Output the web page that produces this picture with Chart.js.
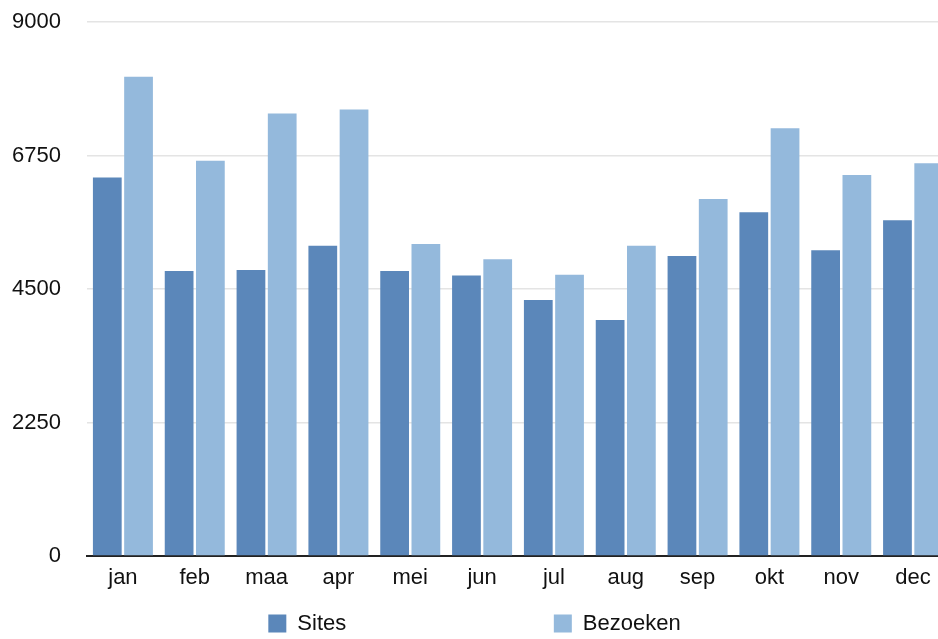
<!DOCTYPE html>
<html>
<head>
<meta charset="utf-8">
<script src="https://cdn.jsdelivr.net/npm/chart.js@4.4.1/dist/chart.umd.min.js"></script>
<style>
  html, body { margin: 0; padding: 0; background: #ffffff; overflow: hidden; }
  #wrap { position: absolute; left: 0; top: -17.5px; width: 956px; height: 661.5px; }
</style>
</head>
<body>
<div id="wrap"><canvas id="c"></canvas></div>
<script>
const months = ["jan","feb","maa","apr","mei","jun","jul","aug","sep","okt","nov","dec"];
const sites = [6384, 4807, 4824, 5233, 4807, 4728, 4318, 3981, 5059, 5795, 5154, 5660];
const bezoeken = [8081, 6666, 7463, 7530, 5262, 5003, 4744, 5233, 6020, 7211, 6424, 6621];
const yTicks = [0, 2250, 4500, 6750, 9000];
const seriesNames = ["Sites", "Bezoeken"];

const FONT = "'Liberation Sans', Arial, Helvetica, sans-serif";
const GAP = " ".repeat(32);

new Chart(document.getElementById('c'), {
  type: 'bar',
  data: {
    labels: months,
    datasets: [
      { label: seriesNames[0], data: sites, backgroundColor: '#5b87ba', borderWidth: 0 },
      { label: seriesNames[1], data: bezoeken, backgroundColor: '#94b9dc', borderWidth: 0 }
    ]
  },
  options: {
    responsive: true,
    maintainAspectRatio: false,
    animation: false,
    datasets: { bar: { categoryPercentage: 0.87, barPercentage: 0.92 } },
    layout: { padding: { left: 0, right: 7, top: 3, bottom: 0 } },
    plugins: {
      tooltip: { enabled: false },
      legend: {
        position: 'bottom',
        labels: {
          font: { family: FONT, size: 22 },
          color: '#111',
          boxWidth: 18,
          boxHeight: 18,
          padding: 12,
          generateLabels: (chart) => {
            const items = Chart.defaults.plugins.legend.labels.generateLabels(chart);
            items.forEach((it, i) => { if (i < items.length - 1) it.text = it.text + GAP; });
            return items;
          }
        }
      }
    },
    scales: {
      x: {
        grid: { display: false, drawTicks: false },
        border: { display: true, color: '#222', width: 2 },
        ticks: { font: { family: FONT, size: 22 }, color: '#111', padding: 9 }
      },
      y: {
        min: 0,
        max: 9000,
        afterBuildTicks: (axis) => { axis.ticks = yTicks.map(v => ({ value: v })); },
        afterFit: (axis) => { axis.width = 87; },
        grid: { color: '#e4e4e4', lineWidth: 1.5, drawTicks: false, tickLength: 0 },
        border: { display: false },
        ticks: { font: { family: FONT, size: 22 }, color: '#111', padding: 26,
                 callback: (v) => String(v) }
      }
    }
  }
});
</script>
</body>
</html>
